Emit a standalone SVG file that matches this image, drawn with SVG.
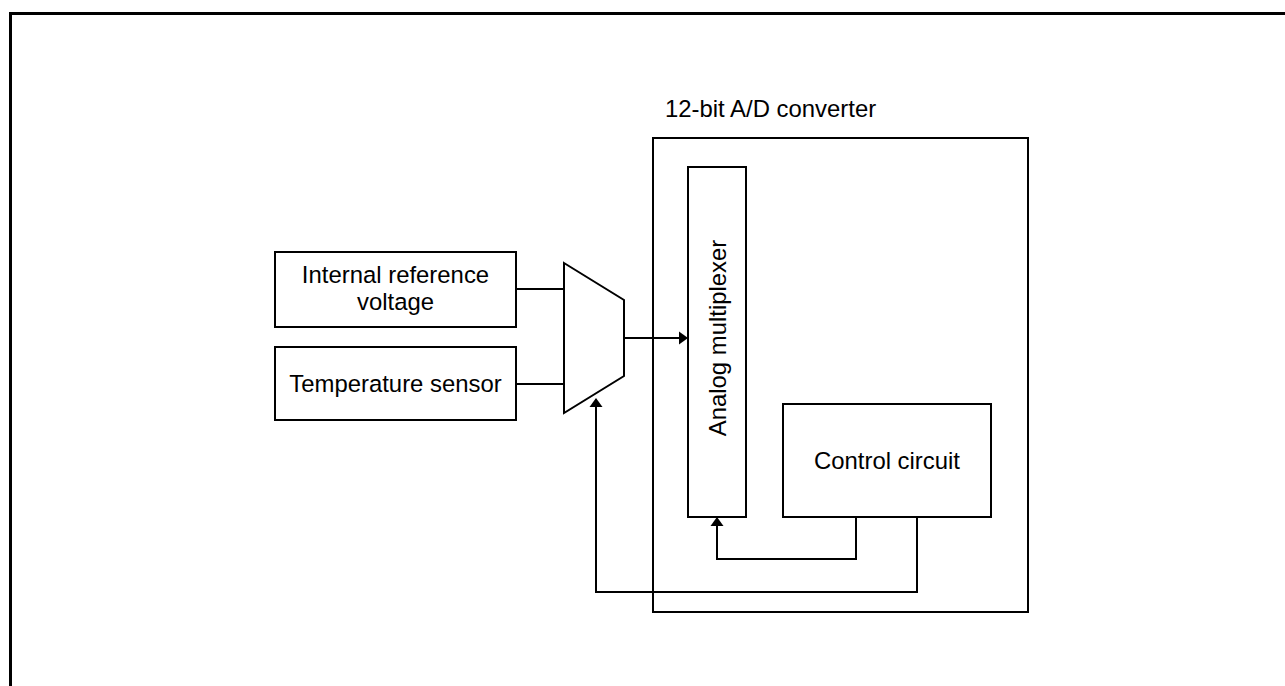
<svg xmlns="http://www.w3.org/2000/svg" width="1285" height="686" viewBox="0 0 1285 686">
<style>
.box{fill:#fff;stroke:#000;stroke-width:2}
.ln{fill:none;stroke:#000;stroke-width:2}
.t{font-family:"Liberation Sans",Arial,sans-serif;font-size:23.9px;fill:#000}
</style>
<defs>
<marker id="arr" markerUnits="userSpaceOnUse" markerWidth="9" markerHeight="13" refX="0" refY="6.5" orient="auto" overflow="visible">
<path d="M0,0 L9,6.5 L0,13 Z" fill="#000"/>
</marker>
</defs>
<rect width="1285" height="686" fill="#fff"/>
<path d="M10.5,686 V13.5 H1285" fill="none" stroke="#000" stroke-width="3"/>
<g id="adc">
<rect class="box" x="653" y="138" width="375" height="474"/>
<text class="t" x="665" y="117">12-bit A/D converter</text>
</g>
<g id="irv">
<rect class="box" x="275" y="252" width="241" height="75"/>
<text class="t" x="395.5" y="283" text-anchor="middle">Internal reference</text>
<text class="t" x="395.5" y="310" text-anchor="middle">voltage</text>
</g>
<g id="temp">
<rect class="box" x="275" y="347" width="241" height="73"/>
<text class="t" x="395.5" y="392" text-anchor="middle">Temperature sensor</text>
</g>
<g id="mux">
<polygon class="box" points="564,263 624,300 624,376 564,413"/>
</g>
<g id="amux">
<rect class="box" x="688" y="167" width="58" height="350"/>
<text class="t" transform="translate(725.5,338) rotate(-90)" text-anchor="middle">Analog multiplexer</text>
</g>
<g id="ctrl">
<rect class="box" x="783" y="404" width="208" height="113"/>
<text class="t" x="887" y="469" text-anchor="middle">Control circuit</text>
</g>
<g id="connectors">
<path class="ln" d="M516,289 H564"/>
<path class="ln" d="M516,384 H564"/>
<path class="ln" d="M624,338 H679" marker-end="url(#arr)"/>
<path class="ln" d="M856,517 V559 H717 V526" marker-end="url(#arr)"/>
<path class="ln" d="M917,517 V592 H596 V407" marker-end="url(#arr)"/>
</g>
</svg>
